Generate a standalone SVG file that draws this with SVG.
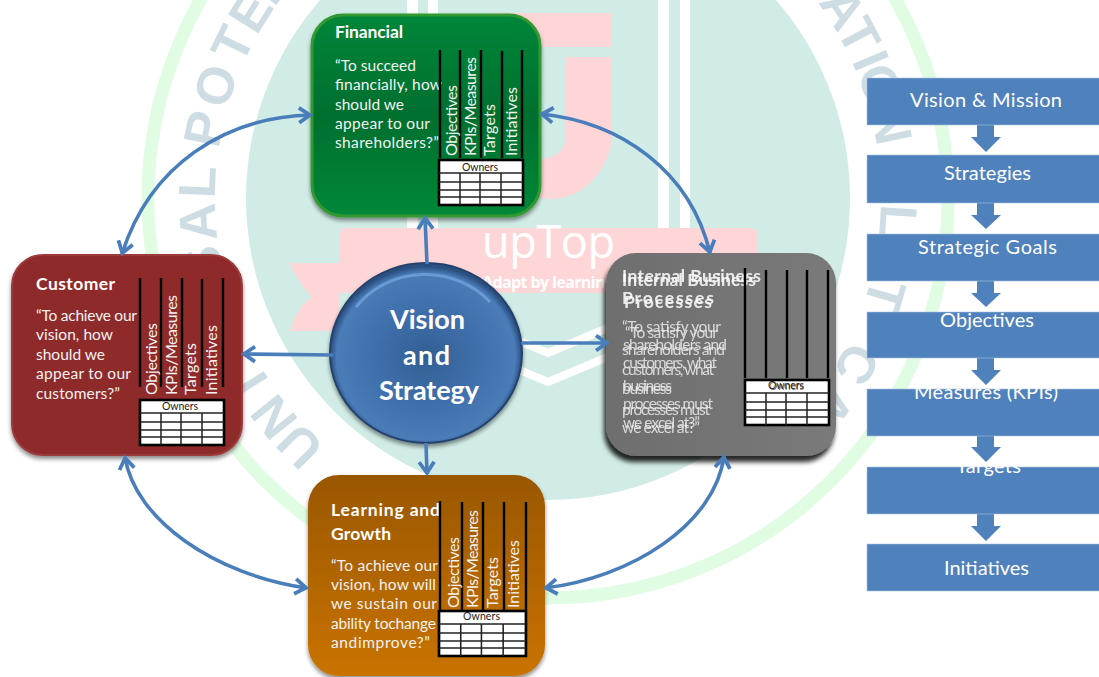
<svg xmlns="http://www.w3.org/2000/svg" width="1099" height="677" viewBox="0 0 1099 677">
<style>
text{font-family:"Lato","Open Sans","Liberation Sans",sans-serif}
.wm{font-family:"Liberation Sans",sans-serif;font-weight:700;font-size:52px;fill:#cedde4;text-anchor:middle}
.t{fill:#fff;font-weight:700;font-size:17.5px}
.b{fill:#f2f2f2;font-size:15.5px}
.g{opacity:.8}
.v{fill:#f2f2f2;font-size:16px}
.o{fill:#222;font-size:10.5px}
.bar{stroke:#000;stroke-width:2.4;fill:none}
.tb{fill:#fff;stroke:#000;stroke-width:2.6}
.gl{stroke:#222;stroke-width:1.5;fill:none}
.c{fill:none;stroke:#4a7ebb;stroke-width:3.6;marker-end:url(#ah)}
.cc{marker-start:url(#ah)}
.fb{fill:#4f81bd;stroke:#a9c1dd;stroke-width:.6}
.fa{fill:#4f81bd}
.fl{fill:#fff;font-size:20px;text-anchor:start}
.cl{fill:#fff;font-weight:700;font-size:27px;text-anchor:start}
</style>
<defs>
<marker id="ah" markerUnits="userSpaceOnUse" viewBox="-16 -10 20 20" refX="0" refY="0" markerWidth="20" markerHeight="20" orient="auto-start-reverse"><path d="M-12,-7.5 L-1,0 L-12,7.5" fill="none" stroke="#4a7ebb" stroke-width="3.8"/></marker>
<linearGradient id="gf" x1="0" y1="0" x2="0" y2="1"><stop offset="0" stop-color="#00863a"/><stop offset=".5" stop-color="#006f2e"/><stop offset="1" stop-color="#008838"/></linearGradient>
<linearGradient id="gl" x1="0" y1="0" x2="0" y2="1"><stop offset="0" stop-color="#995700"/><stop offset="1" stop-color="#c97300"/></linearGradient>
<linearGradient id="gi" x1="0" y1="0" x2="1" y2="0"><stop offset="0" stop-color="#6e6e6e"/><stop offset="1" stop-color="#7a7a7a"/></linearGradient>
<radialGradient id="gc" cx=".5" cy=".52" r=".5"><stop offset="0" stop-color="#335e93"/><stop offset=".55" stop-color="#3f70ac"/><stop offset=".93" stop-color="#4a7cb8"/><stop offset="1" stop-color="#2b5080"/></radialGradient>
<filter id="s1" x="-10%" y="-10%" width="120%" height="120%"><feDropShadow dx="0" dy="3" stdDeviation="2" flood-color="#000" flood-opacity=".45"/></filter>
<filter id="s2" x="-10%" y="-10%" width="120%" height="120%"><feDropShadow dx="-2" dy="6" stdDeviation="2.5" flood-color="#000" flood-opacity=".85"/></filter>
<g id="grid"><rect class="tb" width="84" height="45"/><path class="gl" d="M0 13H84M0 22H84M0 30H84M0 37H84M21 13V45M41 13V45M62 13V45"/></g>
</defs>
<rect width="1099" height="677" fill="#fff"/>
<g id="watermark">
<circle cx="548" cy="198" r="400" fill="none" stroke="#e0fde3" stroke-width="13"/>
<circle cx="548" cy="198" r="302" fill="#d1ece6"/>
<rect x="407" y="0" width="11" height="228" fill="#fff"/><rect x="428" y="0" width="10" height="228" fill="#fff"/>
<rect x="658" y="0" width="11" height="228" fill="#fff"/><rect x="680" y="0" width="10" height="228" fill="#fff"/>
<path d="M486 327L548 353L610 327M486 356L548 382L610 356" fill="none" stroke="#fff" stroke-width="8"/>
<path d="M490 13H612V47H490ZM565 57H612V140A62 72 0 0 1 490 140V57H520V140A22 18 0 0 0 565 140Z" fill="#ffd6d8"/>
<path d="M346 228H750Q757 228 757 235V293H340V331H290Q296 308 312 297Q296 280 290 263H340V235Q340 228 346 228Z" fill="#ffd6d8"/>
<text x="482" y="258" font-size="45" fill="#fff" textLength="133" style="font-family:'Open Sans',sans-serif">upTop</text>
<text x="482" y="288" font-size="16" font-weight="700" fill="#fff" textLength="132" style="font-family:'Open Sans',sans-serif">Adapt by learning</text>
<g>
<text class="wm" transform="rotate(-135 548 198)" x="548" y="-135">U</text>
<text class="wm" transform="rotate(-128.6 548 198)" x="548" y="-135">N</text>
<text class="wm" transform="rotate(-122 548 198)" x="548" y="-135">I</text>
<text class="wm" transform="rotate(-100.8 548 198)" x="548" y="-135">S</text>
<text class="wm" transform="rotate(-93.9 548 198)" x="548" y="-135">A</text>
<text class="wm" transform="rotate(-87.4 548 198)" x="548" y="-135">L</text>
<text class="wm" transform="rotate(-78.6 548 198)" x="548" y="-135">P</text>
<text class="wm" transform="rotate(-71.3 548 198)" x="548" y="-135">O</text>
<text class="wm" transform="rotate(-64 548 198)" x="548" y="-135">T</text>
<text class="wm" transform="rotate(-58 548 198)" x="548" y="-135">E</text>
<text class="wm" transform="rotate(-52 548 198)" x="548" y="-135">N</text>
<text class="wm" transform="rotate(57.3 548 198)" x="548" y="-135">A</text>
<text class="wm" transform="rotate(62.4 548 198)" x="548" y="-135">T</text>
<text class="wm" transform="rotate(66.9 548 198)" x="548" y="-135">I</text>
<text class="wm" transform="rotate(71.2 548 198)" x="548" y="-135">O</text>
<text class="wm" transform="rotate(78 548 198)" x="548" y="-135">N</text>
<text class="wm" transform="rotate(93.7 548 198)" x="548" y="-135">L</text>
<text class="wm" transform="rotate(106.2 548 198)" x="548" y="-135">T</text>
<text class="wm" transform="rotate(118.3 548 198)" x="548" y="-135">C</text>
<text class="wm" transform="rotate(126 548 198)" x="548" y="-135">A</text>
</g>
</g>
<g id="node-financial">
<rect x="312" y="15" width="228" height="201" rx="31" fill="url(#gf)" stroke="#339933" stroke-width="3" filter="url(#s1)"/>
<text class="t" x="335" y="38" textLength="68">Financial</text>
<text class="b" x="335" y="71" textLength="81">“To succeed</text>
<text class="b" x="335" y="90" textLength="107">financially, how</text>
<text class="b" x="335" y="110" textLength="69">should we</text>
<text class="b" x="335" y="129" textLength="95">appear to our</text>
<text class="b" x="335" y="148" textLength="104">shareholders?”</text>
<path class="bar" d="M440 50V158M460 50V158M481 50V158M502 51V158M522 50V158"/>
<text class="v" transform="translate(457 156) rotate(-90)" textLength="71">Objectives</text>
<text class="v" transform="translate(476 156) rotate(-90)" textLength="99">KPIs/Measures</text>
<text class="v" transform="translate(495 156) rotate(-90)" textLength="52">Targets</text>
<text class="v" transform="translate(517 156) rotate(-90)" textLength="69">Initiatives</text>
<use href="#grid" x="439" y="160"/><text class="o" x="462" y="171" textLength="36">Owners</text>
</g>
<g id="node-customer">
<rect x="12" y="255" width="230" height="200" rx="31" fill="#8f2b2b" stroke="#9c3b3b" stroke-width="2" filter="url(#s1)"/>
<text class="t" x="36" y="290" textLength="79">Customer</text>
<text class="b" x="36" y="321" textLength="101">“To achieve our</text>
<text class="b" x="36" y="340" textLength="77">vision, how</text>
<text class="b" x="36" y="360" textLength="69">should we</text>
<text class="b" x="36" y="379" textLength="95">appear to our</text>
<text class="b" x="36" y="399" textLength="84">customers?”</text>
<path class="bar" d="M140 278V387M161 278V387M182 278V387M202 279V387M223 278V387"/>
<text class="v" transform="translate(157 395) rotate(-90)" textLength="72">Objectives</text>
<text class="v" transform="translate(177 395) rotate(-90)" textLength="100">KPIs/Measures</text>
<text class="v" transform="translate(196 395) rotate(-90)" textLength="52">Targets</text>
<text class="v" transform="translate(217 395) rotate(-90)" textLength="70">Initiatives</text>
<use href="#grid" x="140" y="400"/><text class="o" x="162" y="410" textLength="36">Owners</text>
</g>
<g id="node-learning">
<rect x="308" y="475" width="237" height="201" rx="31" fill="url(#gl)" filter="url(#s1)"/>
<text class="t" x="331" y="516" textLength="109">Learning  and</text>
<text class="t" x="331" y="540" textLength="60">Growth</text>
<text class="b" x="331" y="571" textLength="107">“To achieve our</text>
<text class="b" x="331" y="590" textLength="105">vision, how will</text>
<text class="b" x="331" y="609" textLength="106">we sustain our</text>
<text class="b" x="331" y="629" textLength="105">ability tochange</text>
<text class="b" x="331" y="648" textLength="99">andimprove?”</text>
<path class="bar" d="M440 501V610M462 502V610M483 502V610M504 502V610M526 502V610"/>
<text class="v" transform="translate(459 608) rotate(-90)" textLength="71">Objectives</text>
<text class="v" transform="translate(478 608) rotate(-90)" textLength="98">KPIs/Measures</text>
<text class="v" transform="translate(498 608) rotate(-90)" textLength="51">Targets</text>
<text class="v" transform="translate(519 608) rotate(-90)" textLength="68">Initiatives</text>
<use href="#grid" transform="translate(439 611) scale(1.035 1)"/><text class="o" x="463" y="620" textLength="37">Owners</text>
</g>
<g id="node-internal">
<rect x="606" y="253" width="230" height="203" rx="30" fill="url(#gi)" filter="url(#s2)"/>
<text class="t" x="622" y="282" textLength="139" opacity=".85">Internal Business</text>
<text class="t" x="622" y="286" textLength="134" opacity=".85">Internal Business</text>
<text class="t" x="622" y="304" textLength="92" opacity=".85">Processes</text>
<text class="t" x="624" y="308" textLength="88" opacity=".85">Processes</text>
<text class="b g" x="622" y="332" textLength="99">“To satisfy your</text>
<text class="b g" x="623" y="350" textLength="104">shareholders and</text>
<text class="b g" x="623" y="368" textLength="94">customers, what</text>
<text class="b g" x="623" y="391" textLength="49">business</text>
<text class="b g" x="623" y="409" textLength="90">processes  must</text>
<text class="b g" x="623" y="428" textLength="77">we excel at?”</text>
<text class="b g" x="625" y="338" textLength="93">“To satisfy your</text>
<text class="b g" x="622" y="355" textLength="103">shareholders and</text>
<text class="b g" x="622" y="375" textLength="92">customers, what</text>
<text class="b g" x="622" y="394" textLength="50">business</text>
<text class="b g" x="622" y="415" textLength="88">processes  must</text>
<text class="b g" x="622" y="433" textLength="78">we excel at?”</text>
<path class="bar" d="M745 268V378M766 270V378M787 270V378M807 270V378M828 270V378"/>
<use href="#grid" x="745" y="380"/><text class="o" x="768" y="389" textLength="36">Owners</text><text class="o" x="769" y="390" textLength="35" opacity=".6">Owners</text>
</g>
<g id="node-center">
<ellipse cx="426" cy="353" rx="96" ry="90" fill="url(#gc)" stroke="#24426c" stroke-width="2" filter="url(#s1)"/>
<path d="M356 307A86 80 0 0 1 490 302" fill="none" stroke="#79a6e0" stroke-width="3" opacity=".7"/>
<text class="cl" x="390" y="329" textLength="75">Vision</text>
<text class="cl" x="403" y="365" textLength="47">and</text>
<text class="cl" x="379" y="400" textLength="100">Strategy</text>
</g>
<g id="connectors">
<path class="c cc" d="M311 115C225 117 150 165 122 254"/>
<path class="c cc" d="M541 114C620 122 690 170 710 253"/>
<path class="c cc" d="M125 457C135 520 215 575 307 588"/>
<path class="c cc" d="M545 588C630 578 715 525 724 456"/>
<path class="c" d="M427 264L425 217"/>
<path class="c" d="M333 355L243 354"/>
<path class="c" d="M521 343L608 343"/>
<path class="c" d="M426 443L427 474"/>
</g>
<g id="flow-arrows">
<path class="fa" d="M977 125H994V137H1001L986 152L971 137H977Z"/>
<path class="fa" d="M977 203H994V215H1001L986 229L971 215H977Z"/>
<path class="fa" d="M977 281H994V293H1001L986 307L971 293H977Z"/>
<path class="fa" d="M977 358H994V370H1001L986 385L971 370H977Z"/>
<path class="fa" d="M977 436H994V447H1001L986 462L971 447H977Z"/>
<path class="fa" d="M977 514H994V526H1001L986 541L971 526H977Z"/>
</g>
<g id="flow-1"><rect class="fb" x="867" y="78" width="233" height="47"/><text class="fl" x="910" y="107" textLength="152">Vision &amp; Mission</text></g>
<g id="flow-2"><rect class="fb" x="867" y="155" width="233" height="48"/><text class="fl" x="944" y="180" textLength="87">Strategies</text></g>
<g id="flow-3"><rect class="fb" x="867" y="234" width="233" height="47"/><text class="fl" x="918" y="254" textLength="139">Strategic  Goals</text></g>
<g id="flow-4"><rect class="fb" x="867" y="312" width="233" height="46"/><text class="fl" x="940" y="327" textLength="94">Objectives</text></g>
<g id="flow-5"><rect class="fb" x="867" y="389" width="233" height="47"/><text class="fl" x="914" y="399" textLength="144">Measures (KPIs)</text></g>
<g id="flow-6"><rect class="fb" x="867" y="467" width="233" height="47"/><text class="fl" x="956" y="473" textLength="65">Targets</text></g>
<g id="flow-7"><rect class="fb" x="867" y="544" width="233" height="47"/><text class="fl" x="944" y="575" textLength="85">Initiatives</text></g>
</svg>
